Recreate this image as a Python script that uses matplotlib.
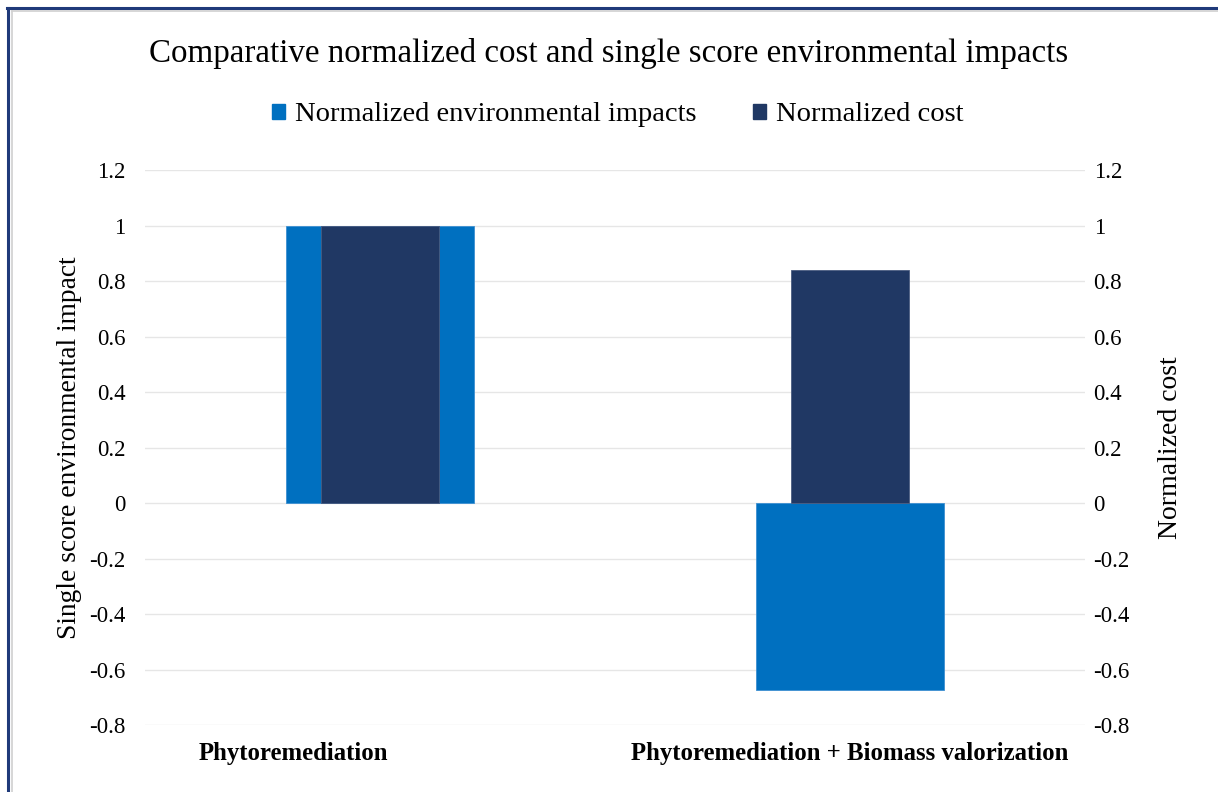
import matplotlib.pyplot as plt
from matplotlib.lines import Line2D
from matplotlib.patches import Patch
import numpy as np

# -----------------------------------
# DATA
# -----------------------------------
categories = ["Phytoremediation", "Phytoremediation + Biomass valorization"]
env_impacts = [1.0, -0.675]
norm_cost = [1.0, 0.84]
y_ticks = [-0.8, -0.6, -0.4, -0.2, 0, 0.2, 0.4, 0.6, 0.8, 1, 1.2]

env_color = "#0070C0"
cost_color = "#203864"
border_color = "#1F3A7A"

plt.rcParams['font.family'] = ['Liberation Serif', 'DejaVu Serif']

fig = plt.figure(figsize=(12.18, 7.92), dpi=100)
ax = fig.add_axes([0.119, 0.0846, 0.772, 0.7004])
ax2 = ax.twinx()

x = np.arange(len(categories))

# primary axis: environmental impacts (wide bars)
ax.bar(x, env_impacts, width=0.4, color=env_color,
       edgecolor="#3D8FD1", linewidth=0.6, zorder=2)

# secondary axis: cost (narrow bars, drawn on top)
ax2.bar(x, norm_cost, width=0.25, color=cost_color,
        edgecolor="#4A5C80", linewidth=0.6, zorder=2)

for a in (ax, ax2):
    a.set_ylim(-0.8, 1.2)
    a.set_yticks(y_ticks)
    a.set_yticklabels([f"{t:g}" for t in y_ticks], fontsize=16.5)
    a.tick_params(axis='y', length=0)
    for s in a.spines.values():
        s.set_visible(False)
ax.tick_params(axis='y', pad=14)
ax2.tick_params(axis='y', pad=6)

ax.set_xlim(-0.5, 1.5)
ax.set_xticks([])
ax.yaxis.grid(True, color="#E6E6E6", linewidth=1, zorder=0)
ax.set_axisbelow(True)

# category labels (left one sits left of its bar, like the original)
label_x = [-0.185, 1.0]
for lx, name in zip(label_x, categories):
    ax.text(lx, -0.86, name, ha='center', va='top',
            fontsize=17.8, fontweight='bold')

ax.set_ylabel("Single score environmental impact", fontsize=19.8, labelpad=5)
ax2.set_ylabel("Normalized cost", fontsize=20, labelpad=20)

# -----------------------------------
# TITLE AND LEGEND
# -----------------------------------
fig.text(0.5, 0.932, "Comparative normalized cost and single score environmental impacts",
         ha='center', va='center', fontsize=23.8)

handles = [Patch(color=env_color, label="Normalized environmental impacts"),
           Patch(color=cost_color, label="Normalized cost")]
fig.legend(handles=handles, loc='center', bbox_to_anchor=(0.507, 0.855),
           ncol=2, frameon=False, fontsize=20.5, handlelength=0.45,
           handleheight=0.45, handletextpad=0.35, columnspacing=2.0)

# -----------------------------------
# BORDER (top and left only)
# -----------------------------------
fig.add_artist(Line2D([0.0065, 0.0065], [0.0, 0.9895], transform=fig.transFigure,
                      color=border_color, linewidth=2.2))
fig.add_artist(Line2D([0.0056, 1.0], [0.9895, 0.9895], transform=fig.transFigure,
                      color=border_color, linewidth=2.2))
fig.add_artist(Line2D([0.0095, 0.0095], [0.0, 0.9865], transform=fig.transFigure,
                      color="#D0D0D0", linewidth=1.2))
fig.add_artist(Line2D([0.0095, 1.0], [0.9860, 0.9860], transform=fig.transFigure,
                      color="#D0D0D0", linewidth=1.2))

plt.savefig("out.png", dpi=100)
